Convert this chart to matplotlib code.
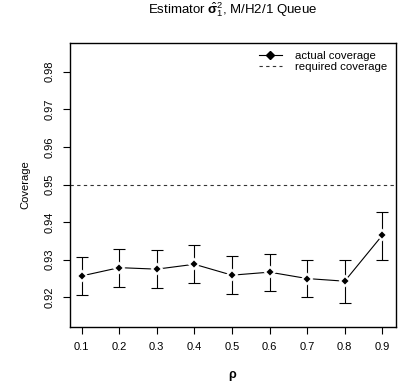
import numpy as np
import matplotlib
matplotlib.use("Agg")
import matplotlib.pyplot as plt
from matplotlib.lines import Line2D

plt.rcParams['font.family'] = ['Liberation Sans', 'DejaVu Sans']
plt.rcParams['mathtext.fontset'] = 'custom'
plt.rcParams['mathtext.rm'] = 'Liberation Sans'
plt.rcParams['mathtext.it'] = 'Liberation Sans:italic'
plt.rcParams['mathtext.bf'] = 'Liberation Sans:bold'

# data
rho = [0.1, 0.2, 0.3, 0.4, 0.5, 0.6, 0.7, 0.8, 0.9]
coverage = [0.9257, 0.9279, 0.9275, 0.9288, 0.9259, 0.9267, 0.9250, 0.9243, 0.9365]
upper = [0.9306, 0.9329, 0.9325, 0.9338, 0.9309, 0.9316, 0.9299, 0.9300, 0.9426]
lower = [0.9206, 0.9228, 0.9226, 0.9238, 0.9209, 0.9217, 0.9200, 0.9186, 0.9298]
required = 0.95
yticks = [0.92, 0.93, 0.94, 0.95, 0.96, 0.97, 0.98]

fig = plt.figure(figsize=(3.99, 3.90), dpi=100)
ax = fig.add_axes([0.1754, 0.1623, 0.8163, 0.7282])

cov = np.array(coverage)
yerr = [cov - np.array(lower), np.array(upper) - cov]
ax.errorbar(rho, cov, yerr=yerr, fmt='none', ecolor='black', elinewidth=0.8,
            capsize=4, capthick=0.8, zorder=2)
ax.plot(rho, cov, color='black', lw=0.8, marker='D', markersize=5.5,
        markerfacecolor='black', markeredgecolor='white', markeredgewidth=1.5,
        zorder=3)
ax.axhline(required, color='#333333', lw=0.8, ls=(0, (3, 3)))

ax.set_xlim(0.069, 0.9356)
ax.set_ylim(0.9122, 0.9877)
ax.set_xticks(rho)
ax.set_xticklabels([str(r) for r in rho])
ax.set_yticks(yticks)
ax.set_yticklabels([f'{t:.2f}' for t in yticks], rotation=90, va='center')
ax.tick_params(axis='both', labelsize=8, length=5, width=0.8, pad=6)

for s in ax.spines.values():
    s.set_linewidth(1.0)

ax.set_ylabel('Coverage', fontsize=8, labelpad=10)
ax.set_xlabel(r'$\mathbf{\rho}$', fontsize=9, labelpad=12)
ax.set_title(r'Estimator $\hat{\mathbf{\sigma}}_1^2$, M/H2/1 Queue', fontsize=9.5, pad=21)

handles = [
    Line2D([], [], color='black', lw=0.8, marker='D', markersize=4.5),
    Line2D([], [], color='#333333', lw=0.8, ls=(0, (3, 3))),
]
ax.legend(handles, ['actual coverage', 'required coverage'], loc='upper right',
          frameon=False, fontsize=8.2, handlelength=2.0, handletextpad=1.2,
          borderaxespad=0.3, labelspacing=0.1)

fig.savefig('out.png', dpi=100)
